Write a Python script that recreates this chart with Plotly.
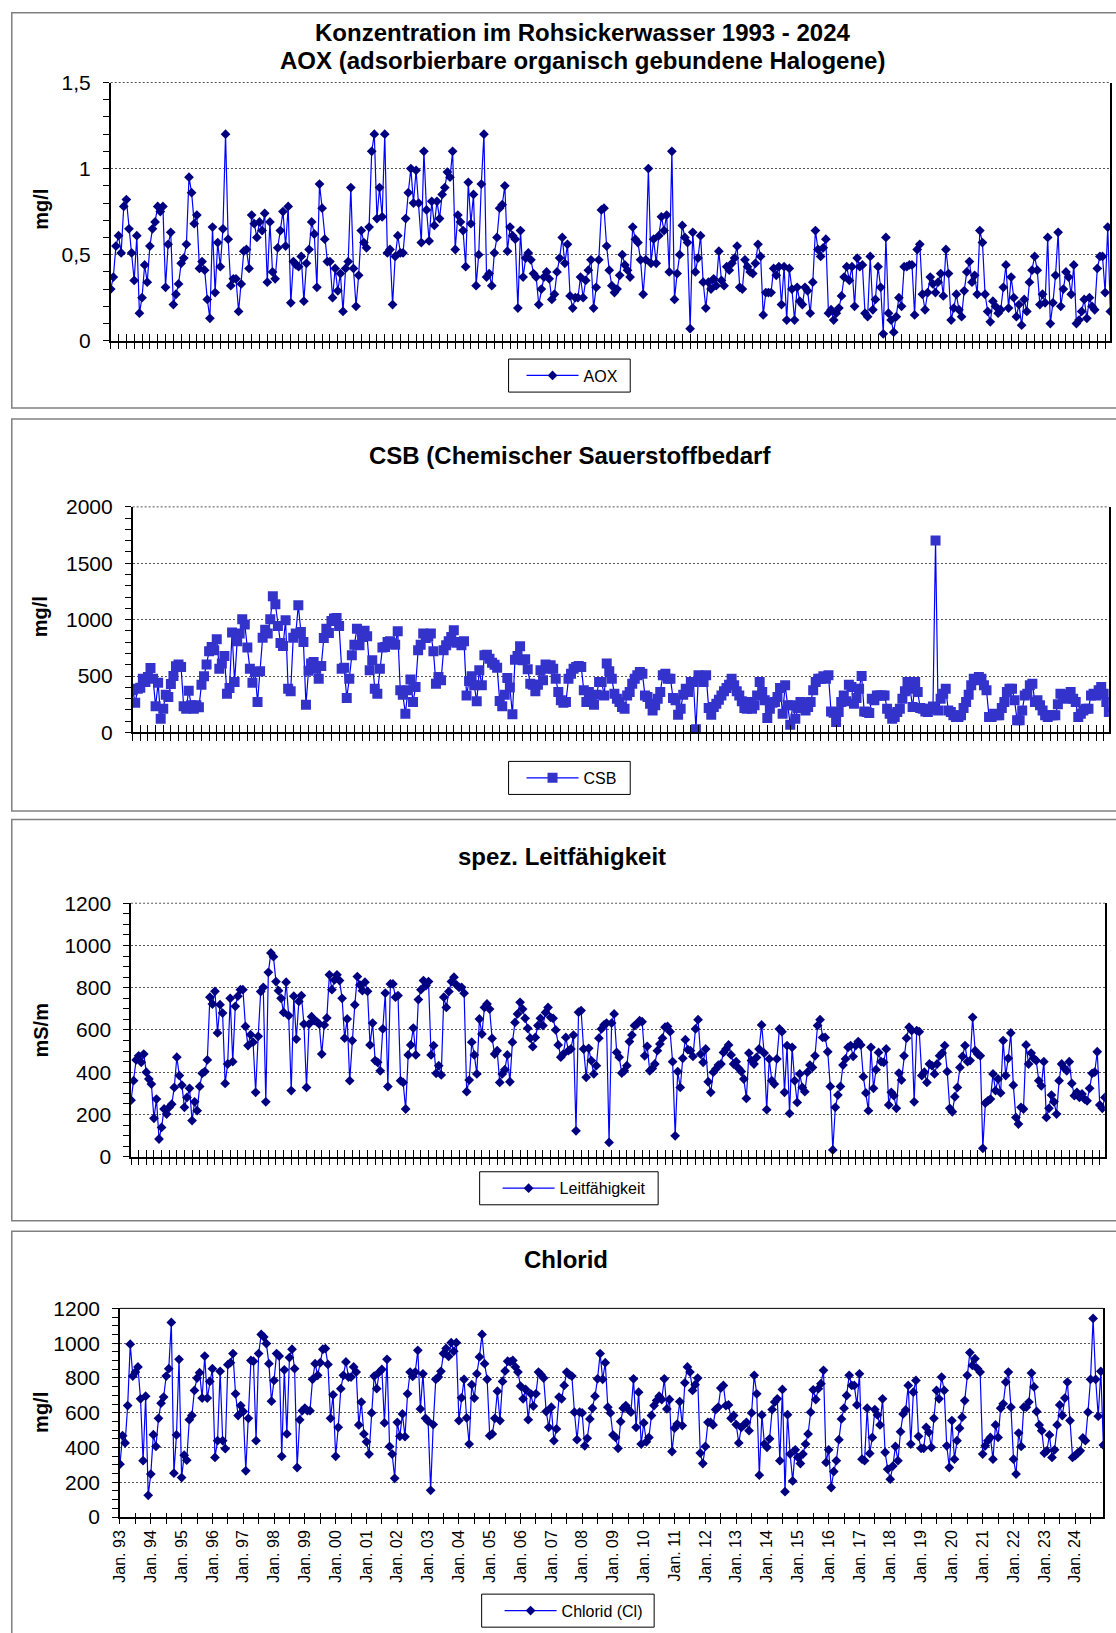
import plotly.graph_objects as go

# Figure size and the measured placement of the figure inside the captured page:
# page_x = SX * fig_x + OX ,  page_y = SY * fig_y + OY
W, H = 1120, 1650
SX, OX = 0.9948, 6.0
SY, OY = 0.9852, 12.25
FONT = "Liberation Sans"

# ---------------- data (monthly values Jan 1993 - Dec 2024, one line per year) -------------
year_labels = ["Jan. 93", "Jan. 94", "Jan. 95", "Jan. 96", "Jan. 97", "Jan. 98", "Jan. 99",
               "Jan. 00", "Jan. 01", "Jan. 02", "Jan. 03", "Jan. 04", "Jan. 05", "Jan. 06",
               "Jan. 07", "Jan. 08", "Jan. 09", "Jan. 10", "Jan. 11", "Jan. 12", "Jan. 13",
               "Jan. 14", "Jan. 15", "Jan. 16", "Jan. 17", "Jan. 18", "Jan. 19", "Jan. 20",
               "Jan. 21", "Jan. 22", "Jan. 23", "Jan. 24"]

aox = [
    0.30, 0.37, 0.55, 0.61, 0.51, 0.78, 0.82, 0.65, 0.51, 0.35, 0.61, 0.16,
    0.25, 0.44, 0.34, 0.55, 0.65, 0.69, 0.78, 0.75, 0.78, 0.31, 0.56, 0.63,
    0.21, 0.27, 0.33, 0.45, 0.48, 0.56, 0.95, 0.86, 0.68, 0.73, 0.42, 0.46,
    0.41, 0.24, 0.13, 0.66, 0.28, 0.57, 0.43, 0.65, 1.20, 0.59, 0.32, 0.36,
    0.36, 0.17, 0.33, 0.52, 0.53, 0.42, 0.73, 0.68, 0.60, 0.69, 0.64, 0.74,
    0.34, 0.69, 0.40, 0.36, 0.54, 0.64, 0.75, 0.55, 0.78, 0.22, 0.46, 0.44,
    0.43, 0.49, 0.23, 0.45, 0.53, 0.69, 0.62, 0.31, 0.91, 0.77, 0.59, 0.46,
    0.46, 0.25, 0.42, 0.29, 0.39, 0.17, 0.42, 0.46, 0.89, 0.42, 0.20, 0.38,
    0.64, 0.57, 0.54, 0.66, 1.10, 1.20, 0.71, 0.89, 0.72, 1.20, 0.51, 0.53,
    0.21, 0.49, 0.61, 0.51, 0.51, 0.71, 0.86, 1.00, 0.80, 0.99, 0.80, 0.57,
    1.10, 0.76, 0.58, 0.81, 0.67, 0.81, 0.71, 0.85, 0.89, 0.98, 0.95, 1.10,
    0.53, 0.73, 0.69, 0.64, 0.43, 0.92, 0.68, 0.85, 0.32, 0.50, 0.91, 1.20,
    0.37, 0.39, 0.32, 0.51, 0.60, 0.77, 0.79, 0.90, 0.52, 0.66, 0.61, 0.59,
    0.19, 0.64, 0.37, 0.48, 0.51, 0.47, 0.39, 0.37, 0.21, 0.30, 0.37, 0.40,
    0.36, 0.24, 0.27, 0.40, 0.48, 0.60, 0.45, 0.56, 0.26, 0.19, 0.25, 0.25,
    0.37, 0.25, 0.35, 0.41, 0.47, 0.19, 0.31, 0.47, 0.76, 0.77, 0.55, 0.41,
    0.32, 0.28, 0.30, 0.38, 0.50, 0.44, 0.41, 0.37, 0.66, 0.59, 0.57, 0.47,
    0.27, 0.47, 1.00, 0.45, 0.59, 0.45, 0.61, 0.72, 0.64, 0.73, 0.40, 1.10,
    0.24, 0.39, 0.50, 0.67, 0.60, 0.57, 0.07, 0.63, 0.40, 0.48, 0.61, 0.34,
    0.19, 0.34, 0.30, 0.36, 0.32, 0.52, 0.35, 0.32, 0.43, 0.41, 0.45, 0.48,
    0.55, 0.31, 0.30, 0.47, 0.43, 0.40, 0.39, 0.45, 0.56, 0.49, 0.15, 0.28,
    0.28, 0.28, 0.42, 0.38, 0.43, 0.21, 0.43, 0.12, 0.42, 0.30, 0.12, 0.31,
    0.23, 0.21, 0.31, 0.29, 0.16, 0.34, 0.64, 0.53, 0.49, 0.54, 0.59, 0.16,
    0.18, 0.12, 0.16, 0.19, 0.26, 0.37, 0.43, 0.35, 0.43, 0.20, 0.48, 0.43,
    0.44, 0.16, 0.14, 0.49, 0.18, 0.24, 0.43, 0.31, 0.04, 0.60, 0.16, 0.12,
    0.05, 0.14, 0.25, 0.20, 0.43, 0.43, 0.44, 0.44, 0.15, 0.53, 0.56, 0.27,
    0.18, 0.28, 0.37, 0.33, 0.28, 0.34, 0.39, 0.26, 0.53, 0.39, 0.12, 0.19,
    0.27, 0.18, 0.14, 0.29, 0.40, 0.46, 0.34, 0.38, 0.27, 0.64, 0.57, 0.27,
    0.17, 0.11, 0.23, 0.20, 0.16, 0.18, 0.31, 0.44, 0.19, 0.37, 0.25, 0.14,
    0.21, 0.09, 0.24, 0.17, 0.34, 0.41, 0.49, 0.41, 0.21, 0.27, 0.22, 0.60,
    0.10, 0.22, 0.38, 0.63, 0.20, 0.30, 0.40, 0.37, 0.27, 0.44, 0.10, 0.12,
    0.17, 0.24, 0.13, 0.25, 0.20, 0.18, 0.42, 0.49, 0.49, 0.28, 0.66, 0.17,
]

csb = [
    373, 263, 388, 396, 476, 447, 491, 571, 476, 231, 441, 121,
    210, 334, 314, 429, 500, 586, 601, 580, 231, 210, 370, 240,
    210, 240, 222, 423, 497, 601, 719, 757, 728, 826, 565, 610,
    678, 343, 394, 885, 447, 808, 876, 1003, 956, 752, 565, 441,
    536, 269, 542, 840, 911, 876, 1003, 1207, 1136, 944, 793, 766,
    994, 388, 364, 840, 876, 1127, 891, 802, 246, 547, 610, 624,
    565, 476, 589, 837, 920, 882, 988, 1009, 1015, 944, 565, 574,
    305, 476, 684, 778, 920, 772, 846, 902, 852, 550, 639, 388,
    343, 565, 752, 757, 802, 808, 790, 778, 897, 373, 334, 166,
    373, 470, 269, 402, 728, 778, 876, 837, 852, 876, 719, 432,
    491, 462, 728, 772, 808, 846, 905, 796, 802, 772, 808, 328,
    456, 497, 417, 275, 550, 417, 684, 689, 654, 618, 600, 574,
    278, 231, 334, 482, 399, 160, 645, 678, 763, 639, 648, 559,
    432, 423, 364, 423, 550, 462, 601, 565, 595, 565, 476, 358,
    284, 263, 269, 476, 521, 565, 580, 589, 580, 373, 269, 358,
    269, 246, 334, 447, 447, 328, 610, 542, 476, 343, 299, 269,
    225, 210, 328, 358, 432, 476, 506, 536, 521, 328, 314, 254,
    195, 240, 299, 358, 506, 521, 476, 476, 305, 284, 157, 210,
    334, 388, 358, 447, 447, 27, 506, 491, 447, 506, 216, 157,
    225, 254, 290, 328, 364, 394, 423, 476, 417, 364, 328, 275,
    216, 210, 269, 210, 240, 328, 447, 358, 284, 127, 210, 263,
    269, 314, 394, 166, 417, 240, 68, 240, 121, 216, 269, 263,
    195, 225, 269, 373, 447, 476, 476, 497, 476, 506, 186, 175,
    92, 180, 269, 328, 275, 423, 402, 254, 305, 388, 500, 186,
    180, 172, 299, 284, 328, 328, 328, 328, 210, 166, 121, 136,
    180, 210, 299, 364, 447, 388, 225, 447, 358, 216, 210, 186,
    180, 210, 230, 1701, 195, 299, 343, 388, 195, 180, 151, 136,
    136, 151, 216, 269, 334, 417, 476, 462, 491, 476, 417, 373,
    136, 136, 166, 151, 151, 216, 269, 358, 388, 388, 284, 107,
    107, 195, 328, 343, 417, 432, 269, 284, 240, 195, 151, 136,
    151, 151, 151, 250, 343, 334, 299, 328, 358, 299, 269, 136,
    166, 195, 210, 210, 328, 343, 328, 373, 402, 343, 269, 180,
]

leitf = [
    268, 360, 458, 478, 447, 486, 400, 368, 344, 182, 273, 84,
    139, 226, 202, 234, 249, 328, 471, 384, 339, 234, 281, 324,
    171, 260, 218, 333, 395, 403, 458, 755, 723, 783, 586, 720,
    680, 347, 439, 750, 450, 712, 760, 791, 791, 617, 526, 578,
    542, 305, 570, 782, 802, 260, 873, 965, 947, 829, 786, 750,
    683, 826, 668, 313, 760, 557, 735, 763, 628, 328, 628, 663,
    644, 640, 628, 486, 624, 657, 861, 791, 837, 861, 834, 750,
    561, 652, 360, 550, 719, 853, 813, 786, 826, 783, 529, 633,
    455, 447, 407, 605, 775, 332, 818, 818, 755, 763, 360, 352,
    226, 482, 529, 609, 482, 744, 791, 834, 810, 829, 482, 526,
    395, 431, 387, 755, 707, 782, 829, 850, 813, 802, 802, 774,
    308, 363, 542, 482, 392, 652, 581, 707, 723, 699, 560, 486,
    502, 352, 392, 412, 482, 355, 542, 636, 676, 731, 699, 655,
    608, 561, 521, 565, 621, 655, 621, 683, 707, 660, 655, 600,
    529, 471, 486, 565, 502, 510, 576, 123, 684, 692, 510, 376,
    513, 455, 392, 431, 561, 605, 624, 633, 68, 633, 676, 494,
    471, 396, 407, 431, 545, 576, 621, 628, 644, 639, 478, 523,
    407, 418, 439, 502, 534, 561, 613, 617, 592, 450, 99, 403,
    328, 466, 554, 507, 502, 475, 605, 649, 486, 447, 510, 355,
    305, 400, 415, 434, 439, 494, 510, 529, 482, 439, 450, 418,
    403, 368, 276, 491, 455, 439, 470, 510, 624, 491, 223, 463,
    360, 344, 463, 605, 592, 305, 526, 205, 518, 360, 257, 392,
    328, 308, 400, 434, 423, 478, 621, 649, 565, 565, 497, 333,
    32, 234, 292, 333, 434, 463, 518, 526, 475, 526, 545, 529,
    379, 302, 218, 518, 324, 412, 494, 450, 447, 510, 245, 305,
    289, 229, 396, 363, 478, 561, 613, 597, 260, 597, 592, 384,
    400, 352, 439, 431, 392, 439, 478, 491, 526, 403, 229, 213,
    284, 328, 423, 475, 526, 450, 455, 660, 502, 486, 478, 40,
    254, 265, 273, 392, 313, 368, 302, 550, 384, 466, 586, 339,
    186, 155, 234, 226, 529, 439, 491, 466, 455, 360, 336, 450,
    186, 229, 292, 260, 202, 360, 439, 420, 407, 450, 347, 289,
    305, 281, 297, 273, 265, 324, 395, 400, 497, 245, 229, 281,
]

chlorid = [
    304, 468, 426, 641, 994, 811, 834, 863, 680, 324, 695, 125,
    247, 474, 406, 568, 655, 690, 811, 853, 1119, 252, 472, 907,
    227, 356, 327, 560, 584, 728, 799, 830, 684, 926, 684, 780,
    853, 343, 439, 838, 439, 393, 876, 888, 940, 709, 584, 641,
    607, 266, 568, 901, 896, 439, 940, 1050, 1036, 998, 882, 666,
    786, 940, 926, 349, 847, 478, 917, 965, 853, 285, 559, 612,
    626, 612, 612, 792, 882, 815, 888, 965, 969, 878, 568, 703,
    349, 516, 738, 815, 892, 805, 805, 863, 834, 530, 661, 478,
    433, 362, 599, 811, 738, 834, 849, 541, 907, 406, 362, 223,
    545, 464, 593, 462, 709, 834, 809, 834, 959, 622, 824, 568,
    551, 154, 532, 792, 805, 838, 940, 970, 924, 1003, 953, 1003,
    555, 686, 792, 570, 420, 761, 684, 824, 921, 1050, 882, 792,
    468, 478, 568, 724, 555, 780, 840, 896, 892, 901, 863, 834,
    753, 680, 734, 560, 709, 638, 709, 834, 819, 799, 607, 516,
    632, 439, 507, 690, 680, 757, 834, 819, 811, 603, 445, 603,
    599, 410, 453, 564, 626, 695, 795, 940, 792, 888, 632, 599,
    472, 458, 395, 549, 626, 641, 618, 603, 795, 516, 718, 420,
    541, 433, 458, 584, 641, 670, 695, 676, 795, 622, 676, 377,
    511, 535, 664, 526, 772, 863, 834, 728, 761, 799, 368, 308,
    406, 545, 545, 530, 618, 632, 742, 757, 641, 645, 568, 584,
    532, 426, 516, 530, 545, 497, 599, 815, 709, 241, 587, 420,
    401, 450, 618, 661, 680, 324, 734, 146, 589, 362, 208, 387,
    343, 308, 362, 420, 478, 603, 732, 676, 738, 767, 844, 314,
    387, 170, 262, 324, 445, 564, 626, 699, 815, 757, 757, 645,
    824, 333, 324, 626, 366, 458, 618, 587, 530, 680, 372, 275,
    218, 293, 406, 324, 491, 593, 616, 757, 420, 718, 786, 464,
    395, 395, 516, 487, 401, 568, 728, 680, 805, 728, 410, 285,
    555, 333, 439, 511, 574, 670, 815, 946, 872, 911, 853, 834,
    362, 410, 439, 458, 333, 530, 458, 626, 651, 776, 834, 632,
    333, 247, 483, 406, 632, 632, 661, 828, 748, 607, 530, 497,
    368, 381, 472, 343, 387, 530, 645, 584, 684, 776, 555, 343,
    353, 368, 381, 455, 439, 603, 792, 1142, 792, 580, 838, 414,
]

for arr in (aox, csb, leitf, chlorid):
    assert len(arr) == 384, len(arr)

months = list(range(len(aox)))          # month index, 0 = Jan 1993
year_ticks = list(range(0, len(aox), 12))  # every January


def clamp(v):
    return max(0.0, min(1.0, v))


def px(x):
    """target page x (px) -> paper fraction"""
    return ((x - OX) / SX) / W


def py(y):
    """target page y (px, from top) -> paper fraction"""
    return 1 - ((y - OY) / SY) / H


def ax_id(letter, n):
    return letter if n == 1 else f"{letter}{n}"


def ax_key(letter, n):
    return f"{letter}axis" if n == 1 else f"{letter}axis{n}"


# ---------------- panel layout (target page pixel geometry) ----------------
panels = [
    dict(name="AOX", y=aox, symbol="diamond", color="#000080", size=7.5,
         x0=108, x1=1110.5, top=82.7, bot=340.7, ymax=1.5, dtick=0.5, minor=0.1,
         ytitle="mg/l", ytx=38, yty=209, box=(507, 629, 359, 392), line0=525,
         titles=[("Konzentration im Rohsickerwasser 1993 - 2024", 581.5, 33),
                 ("AOX (adsorbierbare organisch gebundene Halogene)", 581, 61)],
         frame=(5, 408), topline=("#555555", "2px,2px")),
    dict(name="CSB", y=csb, symbol="square", color="#3333CC", size=10,
         x0=130, x1=1109, top=506.7, bot=732, ymax=2000, dtick=500, minor=100,
         ytitle="mg/l", ytx=37, yty=616, box=(507, 629, 761, 794), line0=525,
         titles=[("CSB (Chemischer Sauerstoffbedarf", 569, 455)],
         frame=(419, 810.5), topline=("#555555", "2px,2px")),
    dict(name="Leitfähigkeit", y=leitf, symbol="diamond", color="#000080", size=7.5,
         x0=128.4, x1=1105, top=902.7, bot=1156, ymax=1200, dtick=200, minor=50,
         ytitle="mS/m", ytx=38, yty=1030, box=(478, 657, 1171, 1204), line0=501,
         titles=[("spez. Leitfähigkeit", 561, 856)],
         frame=(819, 1220), topline=("#555555", "2px,2px")),
    dict(name="Chlorid (Cl)", y=chlorid, symbol="diamond", color="#000080", size=7.5,
         x0=117.3, x1=1103.5, top=1307.5, bot=1516, ymax=1200, dtick=200, minor=50,
         ytitle="mg/l", ytx=38, yty=1411, box=(480, 653, 1593, 1626), line0=503,
         titles=[("Chlorid", 565, 1259)],
         frame=(1230.5, 1700), topline=("black", "solid")),
]

fig = go.Figure()
layout = dict(
    width=W, height=H, autosize=False,
    margin=dict(l=0, r=0, t=0, b=0),
    paper_bgcolor="white", plot_bgcolor="white",
    separators=",.",
    font=dict(family=FONT, color="black"),
    showlegend=True,
)
shapes = []
annotations = []

for i, p in enumerate(panels, start=1):
    xa, ya = ax_id("x", i), ax_id("y", i)
    xo = ax_id("x", i + 4)
    leg = "legend" if i == 1 else f"legend{i}"
    fig.add_trace(go.Scatter(
        x=months, y=p["y"], name=p["name"], mode="lines+markers",
        line=dict(color="#0000FF", width=1.2),
        marker=dict(symbol=p["symbol"], color=p["color"], size=p["size"],
                    line=dict(width=0)),
        xaxis=xa, yaxis=ya, legend=leg,
    ))
    # empty helper trace that activates the overlay axis for the inner tick marks
    fig.add_trace(go.Scatter(x=[], y=[], xaxis=xo, yaxis=ya, showlegend=False,
                             hoverinfo="skip"))

    last = i == 4
    dom_x = [clamp(px(p["x0"])), clamp(px(p["x1"]))]
    dom_y = [clamp(py(p["bot"])), clamp(py(p["top"]))]
    xr = [0, len(months) - 1]
    xax = dict(domain=dom_x, range=xr, anchor=ya, showline=True, linecolor="black",
               linewidth=1.5, showgrid=False, zeroline=False, ticks="outside",
               tickcolor="black", tickwidth=1)
    if last:
        xax.update(tickmode="array", tickvals=year_ticks, ticktext=year_labels,
                   tickangle=-90, ticklen=5, tickfont=dict(size=16, family=FONT),
                   minor=dict(tickmode="linear", tick0=0, dtick=6, ticks="outside",
                              ticklen=5, tickcolor="black", tickwidth=1, showgrid=False))
    else:
        xax.update(tickmode="linear", tick0=0, dtick=3, ticklen=7,
                   showticklabels=False)
    layout[ax_key("x", i)] = xax
    layout[ax_key("x", i + 4)] = dict(
        overlaying=xa, anchor=ya, range=xr, side="bottom", showline=False,
        showgrid=False, zeroline=False, showticklabels=False, ticks="inside",
        tickmode="linear", tick0=0, dtick=6 if last else 3,
        ticklen=4 if last else 7, tickcolor="black", tickwidth=1)
    layout[ax_key("y", i)] = dict(
        domain=dom_y, range=[0, p["ymax"]], anchor=xa, showline=True, mirror=True,
        linecolor="black", linewidth=1.5, zeroline=False,
        ticks="outside", ticklen=6, tickcolor="black", tickwidth=1,
        tickmode="linear", tick0=0, dtick=p["dtick"],
        minor=dict(tickmode="linear", tick0=0, dtick=p["minor"], ticks="outside",
                   ticklen=6, tickcolor="black", tickwidth=1, showgrid=False),
        showgrid=True, gridcolor="#555555", gridwidth=1, griddash="2px,2px",
        tickfont=dict(size=21, family=FONT), ticklabelstandoff=8,
    )
    # top border of the plot area
    tcol, tdash = p["topline"]
    shapes.append(dict(type="line", xref=f"{xa} domain", yref=f"{ya} domain",
                       x0=0, x1=1, y0=1, y1=1,
                       line=dict(color=tcol, width=1, dash=tdash)))
    # panel frame
    shapes.append(dict(type="rect", xref="paper", yref="paper",
                       x0=px(8.8), x1=1.02,
                       y0=min(py(p["frame"][1]), 1.0), y1=min(py(p["frame"][0]), 0.9995),
                       line=dict(color="#808080", width=1.5), layer="below"))
    # legend frame
    bx0, bx1, by0, by1 = p["box"]
    shapes.append(dict(type="rect", xref="paper", yref="paper",
                       x0=px(bx0), x1=px(bx1), y0=py(by1), y1=py(by0),
                       line=dict(color="black", width=1)))
    layout[leg] = dict(
        x=px(p["line0"] - 5), xanchor="left", y=py((by0 + by1) / 2), yanchor="middle",
        bgcolor="rgba(0,0,0,0)", borderwidth=0, itemwidth=52,
        font=dict(size=16, family=FONT, color="black"),
    )
    for txt, cx, cy in p["titles"]:
        annotations.append(dict(text=f"<b>{txt}</b>", x=px(cx), y=py(cy),
                                xref="paper", yref="paper", showarrow=False,
                                xanchor="center", yanchor="middle",
                                font=dict(size=24, family=FONT, color="black")))
    annotations.append(dict(text=f"<b>{p['ytitle']}</b>", x=px(p["ytx"]), y=py(p["yty"]),
                            xref="paper", yref="paper", showarrow=False, textangle=-90,
                            xanchor="center", yanchor="middle",
                            font=dict(size=20, family=FONT, color="black")))

layout["shapes"] = shapes
layout["annotations"] = annotations
fig.update_layout(**layout)
fig.write_html("out.html")
